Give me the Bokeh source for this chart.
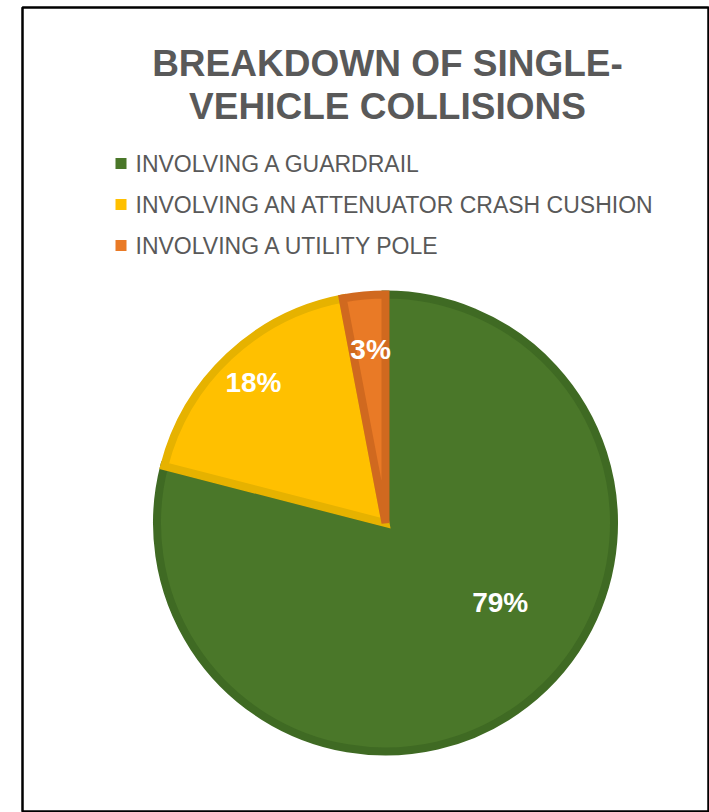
import math
from bokeh.plotting import figure
from bokeh.models import Range1d, ColumnDataSource
from bokeh.core.properties import value
from bokeh.embed import file_html
from bokeh.resources import INLINE

# ---- data ----
categories = ["INVOLVING A GUARDRAIL",
              "INVOLVING AN ATTENUATOR CRASH CUSHION",
              "INVOLVING A UTILITY POLE"]
shares = [79, 18, 3]
title_lines = ["BREAKDOWN OF SINGLE-", "VEHICLE COLLISIONS"]

# ---- styles ----
fill_colors = ["#4A7729", "#FFC000", "#E97A26"]
edge_colors = ["#3F6A23", "#E6B200", "#D0691F"]
label_radius_frac = [0.60, 0.83, 0.75]
label_angle_shift_deg = [17.5, 0.0, -0.5]
TEXT_GRAY = "#595959"
FONT = "Liberation Sans"

W, H = 709, 812
p = figure(width=W, height=H, output_backend="svg", toolbar_location=None,
           x_axis_location=None, y_axis_location=None,
           min_border_left=22, min_border_right=0, min_border_top=7,
           min_border_bottom=1,
           x_range=Range1d(0, 687), y_range=Range1d(0, 804))
p.grid.visible = False
p.outline_line_color = "black"
p.outline_line_width = 2.5
p.background_fill_color = "white"
p.border_fill_color = "white"

# pie geometry (layout)
cx, cy = 363, 288.5
R_OUT = 232.5
LW = 8
r = R_OUT - LW / 2

total = float(sum(shares))
starts, ends, mids = [], [], []
cum = 0.0
for s in shares:
    a0 = math.pi / 2 - 2 * math.pi * cum / total
    cum += s
    a1 = math.pi / 2 - 2 * math.pi * cum / total
    starts.append(a0)
    ends.append(a1)
    mids.append((a0 + a1) / 2)

src = ColumnDataSource(dict(x=[cx] * len(shares), y=[cy] * len(shares),
                            start=starts, end=ends,
                            fill=fill_colors, edge=edge_colors))
p.wedge(x="x", y="y", radius=r, radius_units="screen",
        start_angle="start", end_angle="end", direction="clock",
        fill_color="fill", line_color="edge", line_width=LW,
        line_join="miter", source=src)

# data labels
lx, ly, lt = [], [], []
for s, m, f, d in zip(shares, mids, label_radius_frac, label_angle_shift_deg):
    a = m + math.radians(d)
    lx.append(cx + f * R_OUT * math.cos(a))
    ly.append(cy + f * R_OUT * math.sin(a))
    lt.append(f"{s}%")
p.text(x=lx, y=ly, text=lt, text_color="white", text_font=value(FONT),
       text_font_style="bold", text_font_size="28px",
       text_align="center", text_baseline="middle")

# title
ty = [748 - i * 43 for i in range(len(title_lines))]
p.text(x=[365] * len(title_lines), y=ty, text=title_lines,
       text_color=TEXT_GRAY, text_font=value(FONT), text_font_style="bold",
       text_font_size="37px", text_align="center",
       text_baseline="alphabetic")

# legend (manual)
leg_y = [811 - 163 - i * 41 for i in range(len(categories))]
p.scatter(x=[98.5] * len(categories), y=leg_y, marker="square", size=11,
          fill_color=fill_colors, line_color=None)
p.text(x=[113] * len(categories), y=leg_y, text=categories,
       text_color=TEXT_GRAY, text_font=value(FONT),
       text_font_size="23px", text_align="left", text_baseline="middle")

open("out.html", "w").write(file_html(p, INLINE))
